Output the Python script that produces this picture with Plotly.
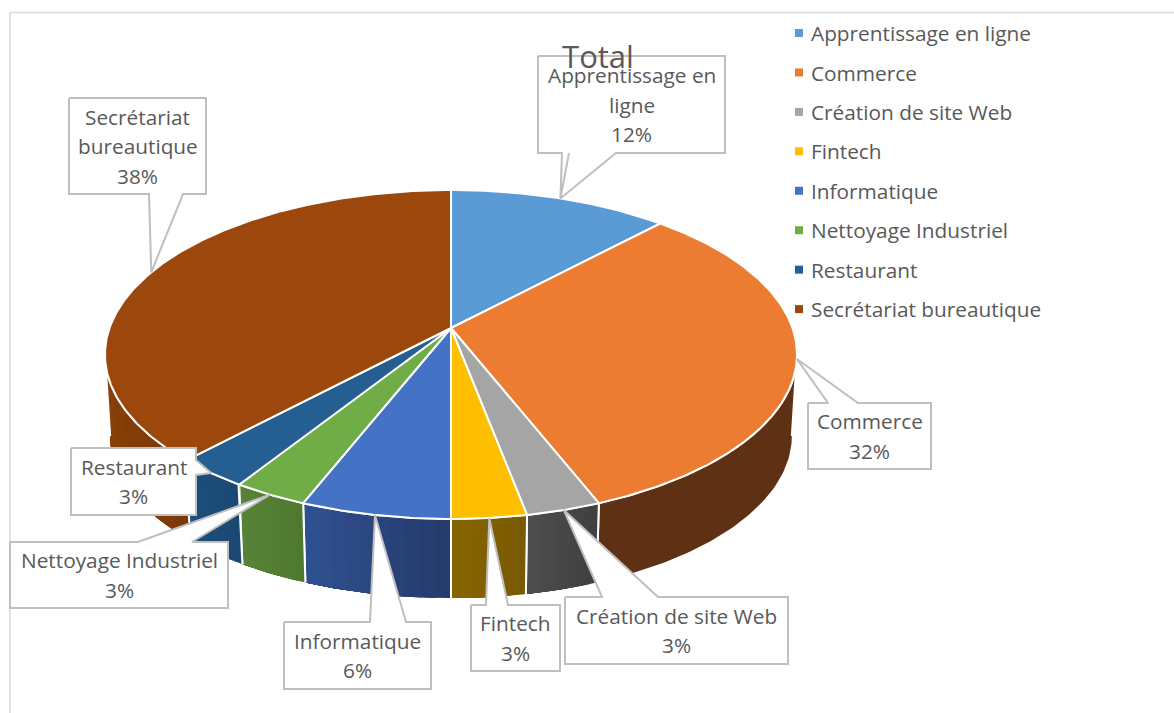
import math
import numpy as np
import plotly.graph_objects as go

# ---------- data ----------
categories = ["Apprentissage en ligne", "Commerce", "Création de site Web", "Fintech",
              "Informatique", "Nettoyage Industriel", "Restaurant", "Secrétariat bureautique"]
values = [12, 32, 3, 3, 6, 3, 3, 38]
title_text = "Total"
label_lines = [["Apprentissage en", "ligne"], ["Commerce"], ["Création de site Web"], ["Fintech"],
               ["Informatique"], ["Nettoyage Industriel"], ["Restaurant"], ["Secrétariat", "bureautique"]]

# ---------- style ----------
top_colors = ["#5B9BD5", "#EB7C31", "#A5A5A5", "#FDBF00", "#4472C4", "#70AD47", "#255E91", "#9C470C"]
wall_shades = [("#365F8A", "#365F8A"), ("#5F3114", "#5F3114"), ("#4E4E4E", "#3F3F3F"), ("#876500", "#785900"),
               ("#305192", "#243A6A"), ("#568437", "#4E782F"), ("#1D5080", "#1B4870"), ("#8C4209", "#7C3807")]
TEXT = "#595959"
BORDER = "#BFBFBF"
FONT = "Open Sans"
FS = 20.8
LINE_H = 29.5

# projection of the pie disc (pixels of the 1174x713 canvas)
CX, CY, KX, KY, P = 451, 328, 341.5, 160.2, 0.161
DEPTH_CY, DEPTH_S = 410, 0.985
T_VIS = math.degrees(math.acos(-P))


def rim(t_deg, bottom=False):
    t = np.radians(t_deg)
    X, Y = np.sin(t), -np.cos(t)
    d = 1 - P * Y
    s, cy = (DEPTH_S, DEPTH_CY) if bottom else (1.0, CY)
    return CX + s * KX * X / d, cy + s * KY * Y / d


def hex_mix(a, b, f):
    ca = [int(a[i:i + 2], 16) for i in (1, 3, 5)]
    cb = [int(b[i:i + 2], 16) for i in (1, 3, 5)]
    return "#%02X%02X%02X" % tuple(round(x + (y - x) * f) for x, y in zip(ca, cb))


cum = np.concatenate([[0], np.cumsum(values)]) / sum(values) * 360
fig = go.Figure()

# side walls: painted as overlapping bands so that no seams appear
for i in range(len(values)):
    a, b = max(cum[i], T_VIS), min(cum[i + 1], 360 - T_VIS)
    if b <= a:
        continue
    n = 10 if wall_shades[i][0] != wall_shades[i][1] else 1
    edges = np.linspace(a, b, n + 1)
    for k in range(n):
        f = 1 - (k + 0.5) / n
        col = hex_mix(*wall_shades[i], f)
        ts = np.linspace(edges[k], b, 60)
        xt, yt = rim(ts)
        xb, yb = rim(ts[::-1], True)
        fig.add_trace(go.Scatter(x=list(xt) + list(xb), y=list(yt) + list(yb), mode="lines", fill="toself",
                                 fillcolor=col, line=dict(width=0), hoverinfo="skip", showlegend=False))
    ts = np.linspace(a, b, 80)
    xt, yt = rim(ts)
    xb0, yb0 = rim(np.array([a]), True)
    xb1, yb1 = rim(np.array([b]), True)
    fig.add_trace(go.Scatter(x=[xb0[0]] + list(xt) + [xb1[0]], y=[yb0[0]] + list(yt) + [yb1[0]], mode="lines",
                             line=dict(color="white", width=2), hoverinfo="skip", showlegend=False))

# top faces
for i in range(len(values)):
    ts = np.linspace(cum[i], cum[i + 1], max(int(cum[i + 1] - cum[i]) * 2, 8))
    xt, yt = rim(ts)
    fig.add_trace(go.Scatter(x=[CX] + list(xt) + [CX], y=[CY] + list(yt) + [CY], mode="lines", fill="toself",
                             fillcolor=top_colors[i], line=dict(color="white", width=2),
                             name=categories[i], hoverinfo="name", showlegend=False))

# call-out boxes: x0, x1, y0, y1, side of pointer, pointer base positions along that side
boxes = [
    (538, 725, 56, 153, "bottom", (562, 569, 616)),
    (808, 931, 403, 469, "top", (828, 858)),
    (565, 788, 597, 664, "top", (602, 658)),
    (471, 560, 605, 671, "top", (486, 508)),
    (284, 431, 622, 689, "top", (370, 406)),
    (10, 228, 542, 608, "top", (138, 192)),
    (71, 196, 448, 515, "right", (460, 475)),
    (69, 206, 98, 194, "bottom", (149, 183)),
]
annotations = []
for i, (x0, x1, y0, y1, side, base) in enumerate(boxes):
    mid = (cum[i] + cum[i + 1]) / 2
    tx, ty = rim(np.array([mid]))
    tx, ty = float(tx[0]), float(ty[0])
    px, py = [x0], [y0]
    if side == "top":
        px += [base[0], tx, base[1], x1, x1, x0, x0]
        py += [y0, ty, y0, y0, y1, y1, y0]
    elif side == "right":
        px += [x1, x1, tx, x1, x1, x0, x0]
        py += [y0, base[0], ty, base[1], y1, y1, y0]
    else:  # bottom, walked from right to left
        px += [x1, x1]
        py += [y0, y1]
        rev = list(base)[::-1]
        for b in rev:
            px += [b, tx]
            py += [y1, ty]
        px += [rev[-1], x0, x0]
        py += [y1, y1, y0]
    fig.add_trace(go.Scatter(x=px, y=py, mode="lines", fill="toself", fillcolor="white",
                             line=dict(color=BORDER, width=2), hoverinfo="skip", showlegend=False))
    lines = label_lines[i] + [f"{values[i]}%"]
    yc = (y0 + y1) / 2
    for j, s in enumerate(lines):
        annotations.append(dict(x=(x0 + x1) / 2, y=yc + (j - (len(lines) - 1) / 2) * LINE_H, text=s, xref="x", yref="y",
                                showarrow=False, xanchor="center", yanchor="middle",
                                font=dict(family=FONT, size=FS, color=TEXT)))

# legend entries
for i, c in enumerate(categories):
    fig.add_trace(go.Scatter(x=[None], y=[None], mode="markers", name=c, legendgroup=c, showlegend=True,
                             marker=dict(symbol="square", size=8, color=top_colors[i])))

fig.update_layout(
    width=1174, height=713, margin=dict(l=0, r=0, t=0, b=0), paper_bgcolor="white", plot_bgcolor="white",
    title=dict(text=title_text, x=598 / 1174, xanchor="center", y=1 - 57 / 713, yanchor="middle",
               font=dict(family=FONT, size=31, color=TEXT)),
    xaxis=dict(range=[0, 1174], visible=False, fixedrange=True),
    yaxis=dict(range=[713, 0], visible=False, fixedrange=True),
    legend=dict(x=779 / 1174, xanchor="left", y=1 - 13 / 713, yanchor="top", bgcolor="rgba(0,0,0,0)",
                tracegroupgap=9.4, font=dict(family=FONT, size=FS, color=TEXT), itemclick=False, itemdoubleclick=False),
    annotations=annotations,
    shapes=[
        dict(type="line", xref="x", yref="y", x0=10, x1=1174, y0=12.5, y1=12.5, line=dict(color="#D9D9D9", width=1.5), layer="below"),
        dict(type="line", xref="x", yref="y", x0=10, x1=10, y0=12.5, y1=713, line=dict(color="#D9D9D9", width=1.5), layer="below"),
    ],
)

fig.write_html("out.html", config={"displayModeBar": False},
               post_script="document.body.style.margin='0';document.body.style.overflow='hidden';"
                           "document.querySelectorAll('.legendtext').forEach(function(t){"
                           "t.setAttribute('x', parseFloat(t.getAttribute('x'))-8);});")
